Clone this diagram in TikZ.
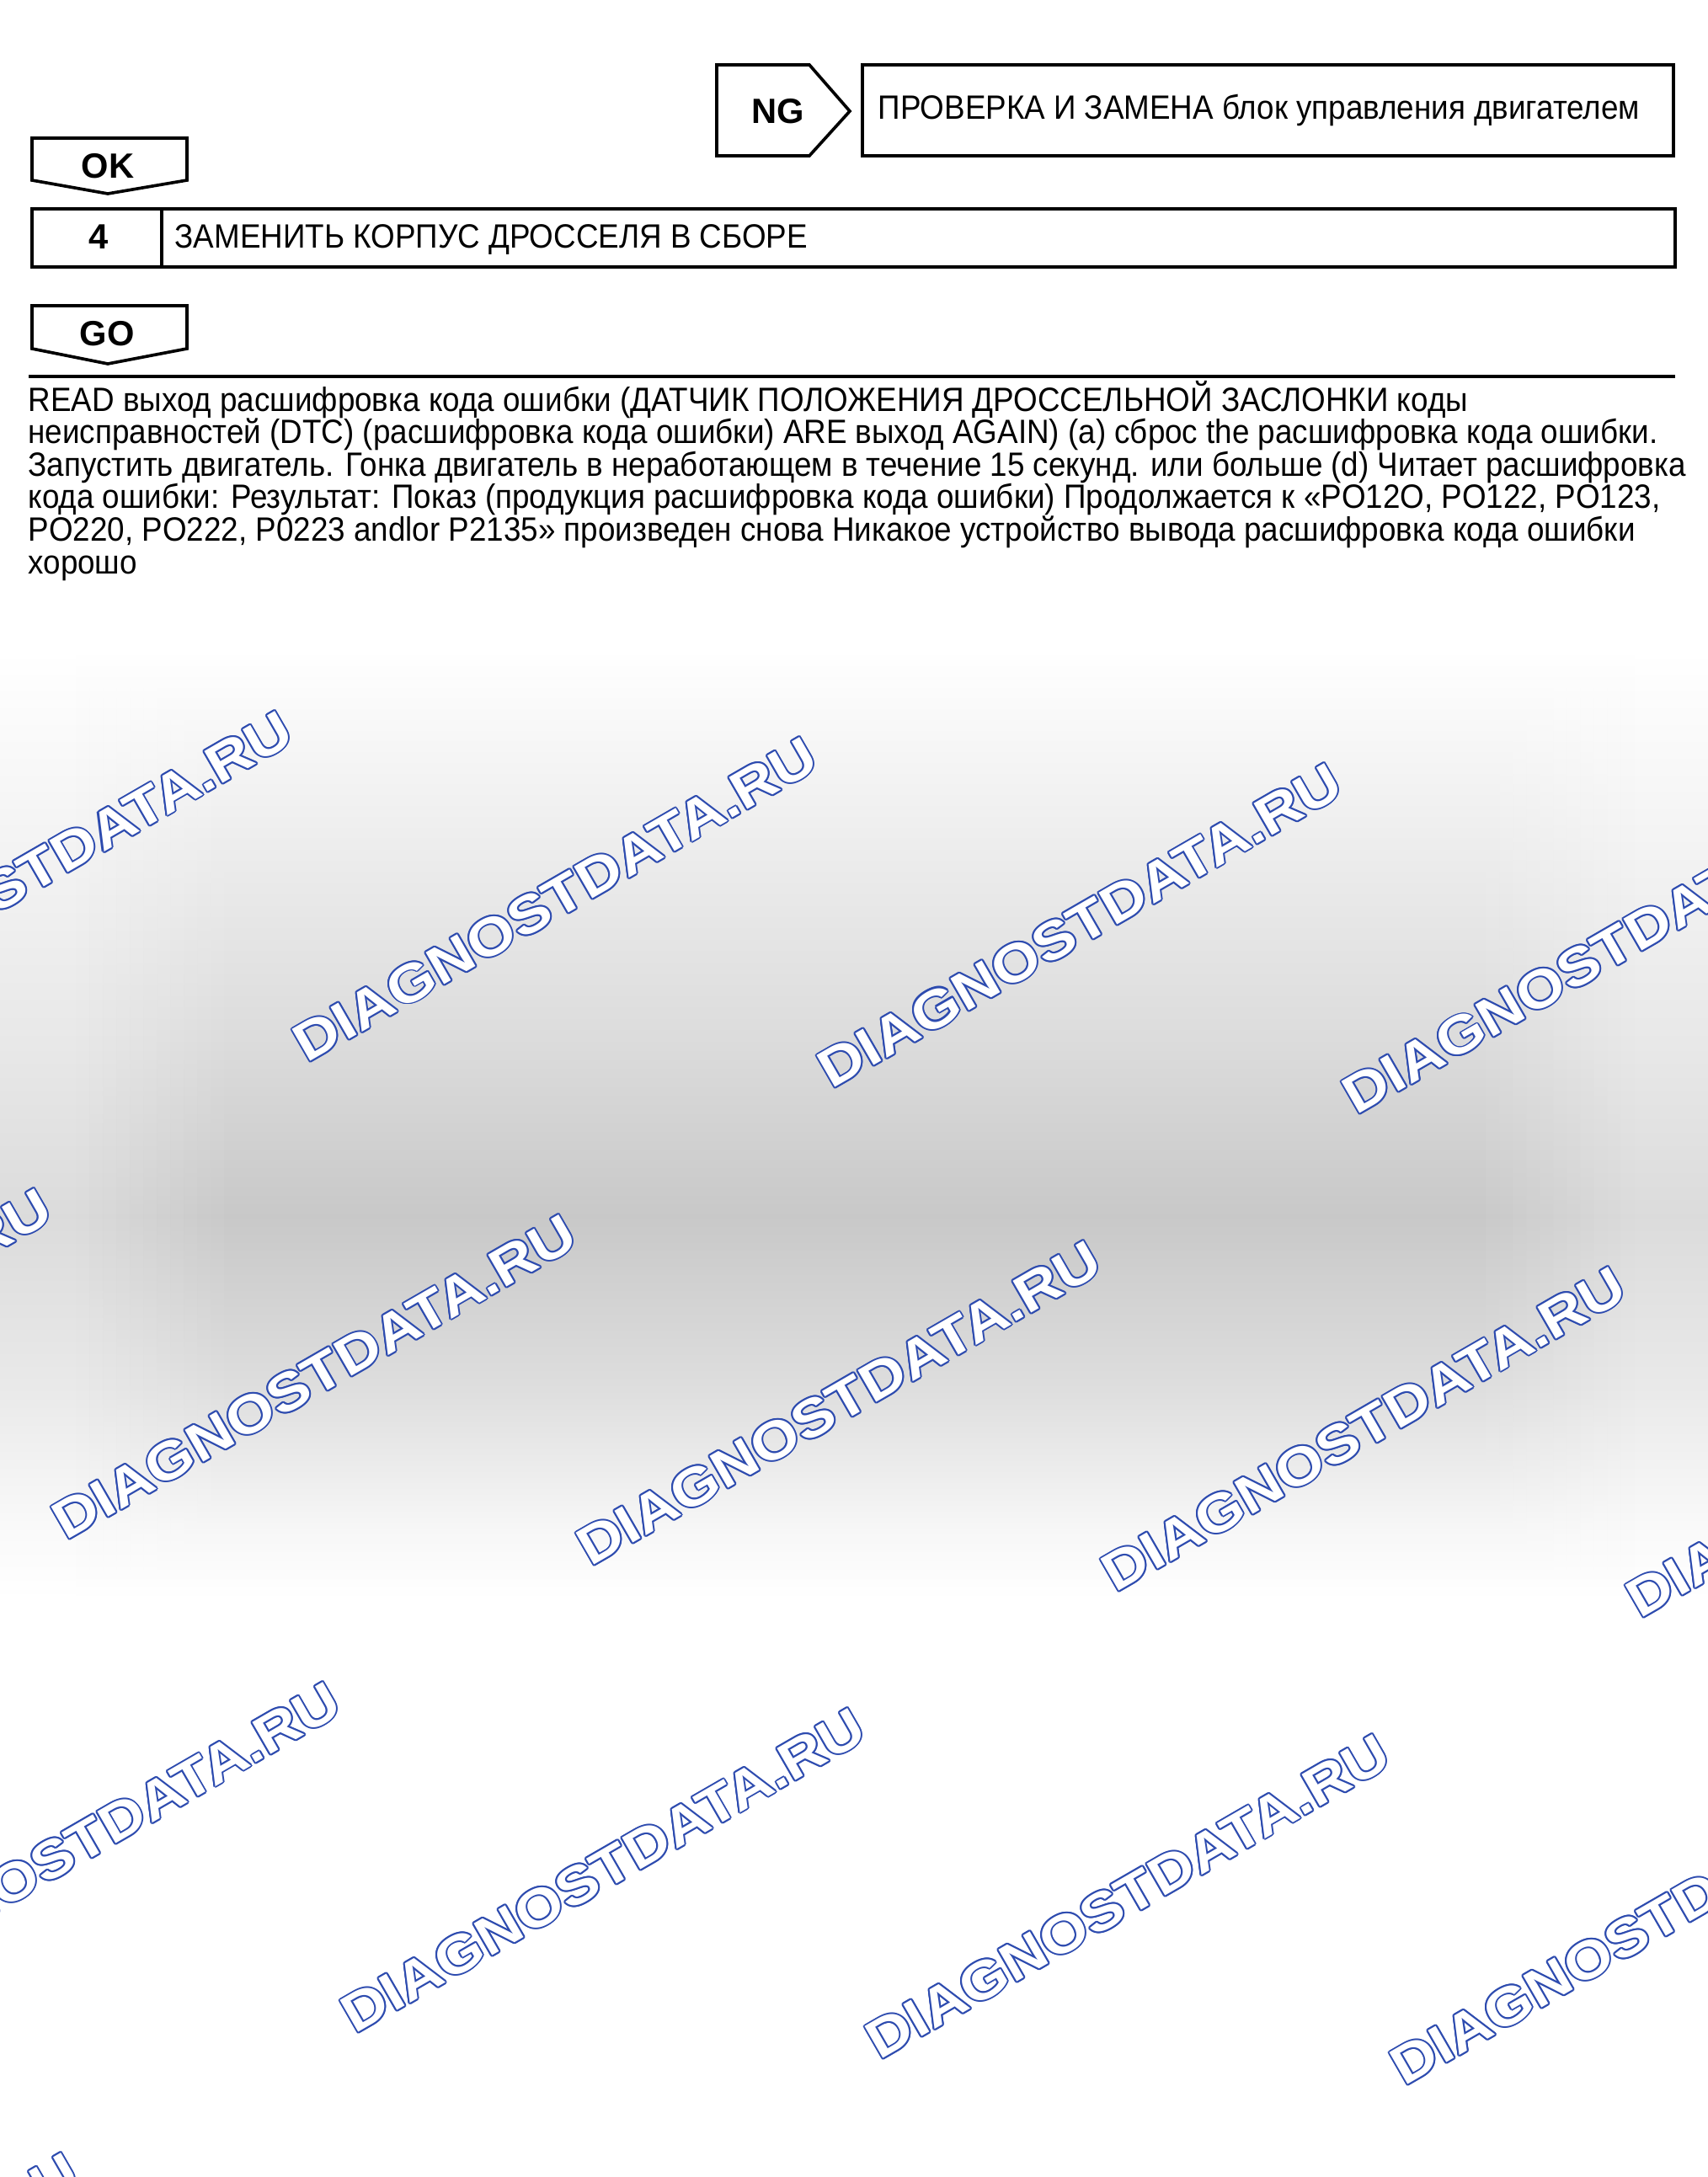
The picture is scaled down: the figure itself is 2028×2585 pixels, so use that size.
\documentclass[tikz,border=0pt]{standalone}
\usepackage{fontspec}
\setmainfont{Liberation Sans}
\definecolor{wmblue}{RGB}{45,75,175}
\pgfdeclareverticalshading{bandlight}{100bp}{color(0bp)=(white); color(25bp)=(white); color(28.5bp)=(black!2); color(36bp)=(black!8.5); color(45bp)=(black!14); color(54bp)=(black!9); color(64.5bp)=(black!4.5); color(74.5bp)=(white); color(100bp)=(white)}
\pgfdeclareverticalshading{banddark}{100bp}{color(0bp)=(white); color(25bp)=(white); color(28.5bp)=(black!3); color(36bp)=(black!13); color(45bp)=(black!21.5); color(54bp)=(black!14); color(64.5bp)=(black!7); color(74.5bp)=(white); color(100bp)=(white)}
\begin{document}
\begin{tikzpicture}[x=0.3pt, y=-0.3pt,
  boxline/.style={draw=black, line width=1.1pt, line join=miter},
  txt/.style={font=\fontsize{12}{14}\selectfont, inner sep=0pt, anchor=base west, xscale=0.92},
  lbl/.style={font=\fontsize{12.5}{14}\selectfont\bfseries, inner sep=0pt},
  wmbase/.style={font=\fontsize{19}{19}\selectfont\bfseries, inner sep=0pt, rotate=30, xscale=1.155},
  wmedge/.style={wmbase, text=wmblue},
  wmfill/.style={wmbase, text=white}]
\useasboundingbox (0,0) rectangle (2028,2585);
\fill[white] (0,0) rectangle (2028,2585);
% grey background band
\shade[shading=bandlight] (0,760) rectangle (2028,1900);
\shade[shading=banddark] (282,760) rectangle (1748,1900);
\foreach \k in {1,...,12} {
  \pgfmathsetmacro{\xa}{90+(\k-1)*16}
  \pgfmathsetmacro{\xb}{90+\k*16}
  \pgfmathsetmacro{\xc}{1940-\k*16}
  \pgfmathsetmacro{\xd}{1940-(\k-1)*16}
  \pgfmathsetmacro{\op}{(\k-0.5)/12}
  \shade[shading=banddark, fill opacity=\op] (\xa,760) rectangle (\xb,1900);
  \shade[shading=banddark, fill opacity=\op] (\xc,760) rectangle (\xd,1900);
}
% watermarks (outlined text)
\begin{scope}
\clip (0,0) rectangle (2028,2585);
\foreach \cx/\cy [count=\i] in {36/1037, 659/1068, 1282/1099, 1905/1130,
    -250/1604, 373/1635, 996/1666, 1619/1697, 2242/1728,
    93/2190, 716/2221, 1339/2252, 1962/2283,
    -218/2749, 405/2780, 1028/2811} {
  \foreach \a [count=\j] in {0,30,...,330}
    \node[wmedge] (wme-\i-\j) at ({\cx+2.0*cos(\a)},{\cy+2.0*sin(\a)}) {DIAGNOSTDATA.RU};
  \node[wmfill] (wm-\i) at (\cx,\cy) {DIAGNOSTDATA.RU};
}
\end{scope}
% NG branch
\draw[boxline] (851,77) -- (961,77) -- (1009,132) -- (961,185) -- (851,185) -- cycle;
\node[lbl] (ng) at (924,132) {NG};
\draw[boxline] (1024,77) rectangle (1987,185);
\node[txt] (ngtext) at (1042,142) {ПРОВЕРКА И ЗАМЕНА блок управления двигателем};
% OK
\draw[boxline] (38,164) -- (222,164) -- (222,214) -- (128,230) -- (38,214) -- cycle;
\node[lbl] (ok) at (128,197) {OK};
% step 4
\draw[boxline] (38,248) rectangle (1989,317);
\draw[boxline] (192,248) -- (192,317);
\node[lbl] (n4) at (117,281) {4};
\node[txt] (step4) at (207,295) {ЗАМЕНИТЬ КОРПУС ДРОССЕЛЯ В СБОРЕ};
% GO
\draw[boxline] (38,363) -- (222,363) -- (222,414) -- (128,432) -- (38,414) -- cycle;
\node[lbl] (go) at (127,396) {GO};
% rule
\draw[line width=1.1pt] (34,447) -- (1989,447);
% paragraph
\node[txt] (p1) at (33,488) {READ выход расшифровка кода ошибки (ДАТЧИК ПОЛОЖЕНИЯ ДРОССЕЛЬНОЙ ЗАСЛОНКИ коды};
\node[txt] (p2) at (33,526.6) {неисправностей (DTC) (расшифровка кода ошибки) ARE выход AGAIN) (a) сброс the расшифровка кода ошибки.};
\node[txt] (p3) at (33,565.2) {Запустить двигатель. Гонка двигатель в неработающем в течение 15 секунд. или больше (d) Читает расшифровка};
\node[txt] (p4) at (33,603.8) {кода ошибки: Результат: Показ (продукция расшифровка кода ошибки) Продолжается к «PO12O, PO122, PO123,};
\node[txt] (p5) at (33,642.4) {PO220, PO222, P0223 andlor P2135» произведен снова Никакое устройство вывода расшифровка кода ошибки};
\node[txt] (p6) at (33,681) {хорошо};
\end{tikzpicture}
\end{document}
